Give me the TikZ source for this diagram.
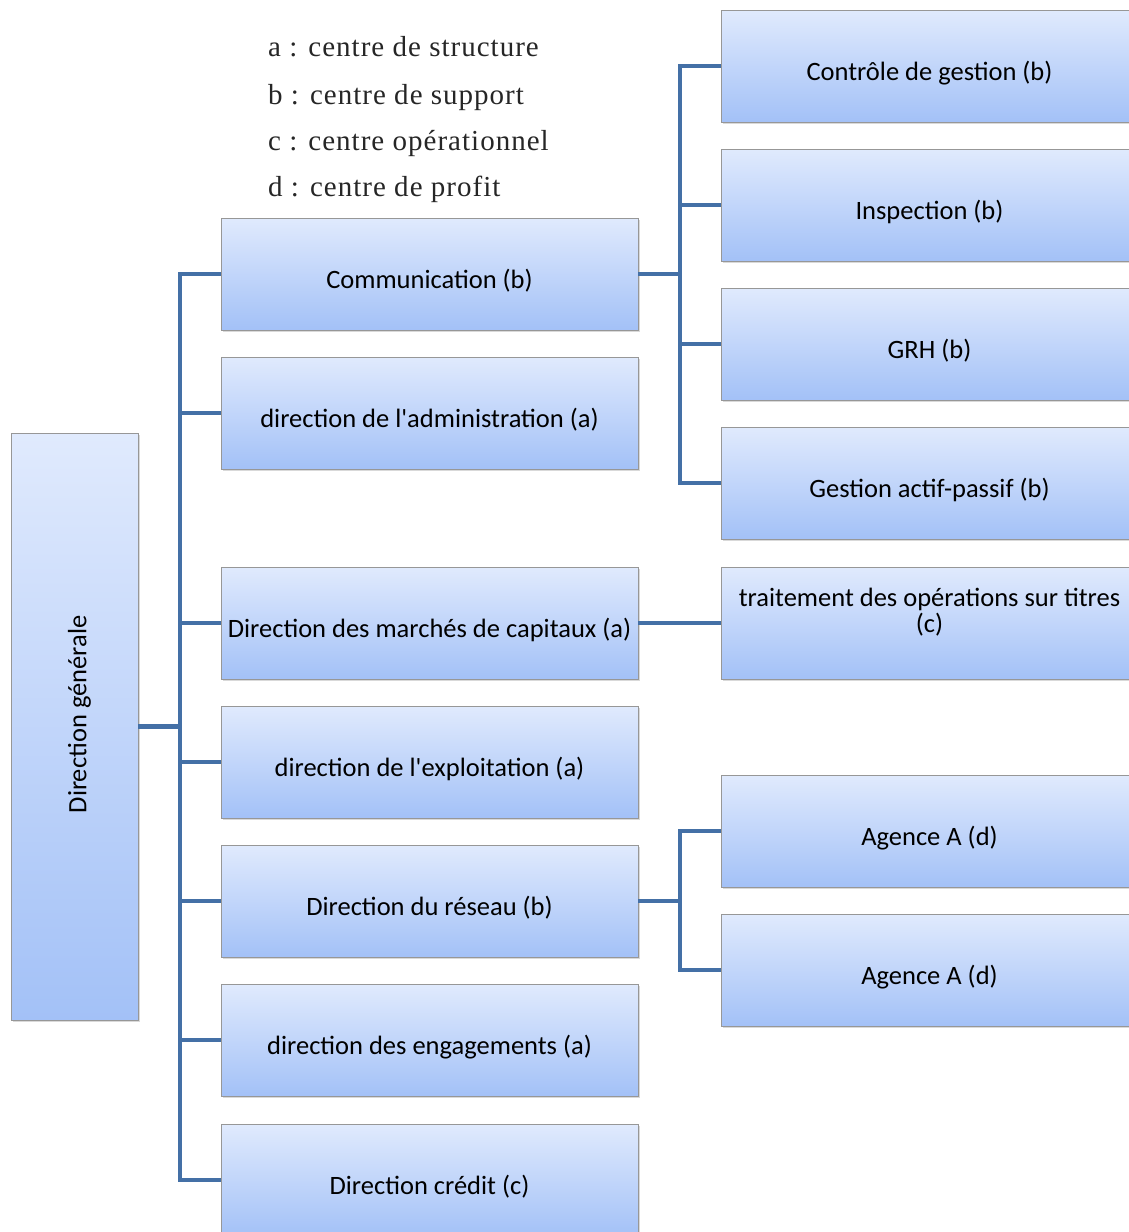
\documentclass[tikz,border=0pt]{standalone}
\usepackage{fontspec}
\setmainfont{Carlito}
\newfontfamily\legendfont[LetterSpace=3.5]{Liberation Serif}
\usetikzlibrary{shadows}

\definecolor{boxtop}{HTML}{E0EAFD}
\definecolor{boxbot}{HTML}{A3C1F7}
\definecolor{boxline}{HTML}{979797}
\definecolor{linkblue}{HTML}{4470A6}

\begin{document}
\begin{tikzpicture}[x=1pt,y=-1pt]
	\tikzstyle{Frame}	= [draw=boxline, line width=0.8pt, top color=boxtop, bottom color=boxbot,
						   minimum width=417pt, minimum height=112pt, inner sep=2pt,
						   font=\fontsize{26.5}{26}\selectfont,
						   drop shadow={shadow xshift=1.5pt, shadow yshift=-1.5pt, opacity=0.3}]
	\tikzstyle{Box}		= [Frame, text height=35pt, text depth=7pt]
	\tikzstyle{Tall}	= [minimum width=127pt, minimum height=587pt]
	\tikzstyle{Link}	= [line width=4.8pt, linkblue]
	\tikzstyle{Key}		= [anchor=base west, inner sep=0pt, text=black!85, font=\legendfont\fontsize{29}{32}\selectfont]

	\useasboundingbox (0,0) rectangle (1128,1232);

	% legend
	\node (ka) at (268,56)  [Key] {a : centre de structure};
	\node (kb) at (268,104) [Key] {b : centre de support};
	\node (kc) at (268,150) [Key] {c : centre opérationnel};
	\node (kd) at (268,196) [Key] {d : centre de profit};

	\node (dg) at (74.5,726.5) [Frame][Tall,
		label={[yshift=12pt, xshift=5pt, rotate=90, font=\fontsize{26.5}{26}\selectfont]center:Direction générale}] {};

	\node (comm)    at (429.5,274)  [Box] {Communication (b)};
	\node (admin)   at (429.5,413)  [Box] {direction de l\textquotesingle administration (a)};
	\node (marches) at (429.5,623)  [Box] {Direction des marchés de capitaux (a)};
	\node (exploit) at (429.5,762)  [Box] {direction de l\textquotesingle exploitation (a)};
	\node (reseau)  at (429.5,901)  [Box] {Direction du réseau (b)};
	\node (engag)   at (429.5,1040) [Box] {direction des engagements (a)};
	\node (credit)  at (429.5,1180) [Box] {Direction crédit (c)};

	\node (ctrl)    at (929.5,66)   [Box] {Contrôle de gestion (b)};
	\node (insp)    at (929.5,205)  [Box] {Inspection (b)};
	\node (grh)     at (929.5,344)  [Box] {GRH (b)};
	\node (gap)     at (929.5,483)  [Box] {Gestion actif-passif (b)};
	\node (titres)  at (929.5,623)  [Frame, align=center] {traitement des opérations sur titres\\(c)\\[-8pt]\strut};
	\node (agA)     at (929.5,831)  [Box] {Agence A (d)};
	\node (agB)     at (929.5,970)  [Box] {Agence A (d)};

	\coordinate (busL) at (180,0);
	\coordinate (busR) at (680,0);

	% left tree
	\draw [Link] (dg.east) -- (dg.east -| busL);
	\draw [Link] (comm.west) -- (busL |- comm.west) -- (busL |- credit.west) -- (credit.west);
	\foreach \n in {admin,marches,exploit,reseau,engag}
		\draw [Link] (busL |- \n.west) -- (\n.west);

	% right trees
	\draw [Link] (ctrl.west) -- (busR |- ctrl.west) -- (busR |- gap.west) -- (gap.west);
	\draw [Link] (comm.east) -- (busR |- comm.east);
	\draw [Link] (busR |- insp.west) -- (insp.west);
	\draw [Link] (busR |- grh.west) -- (grh.west);
	\draw [Link] (marches.east) -- (titres.west);
	\draw [Link] (agA.west) -- (busR |- agA.west) -- (busR |- agB.west) -- (agB.west);
	\draw [Link] (reseau.east) -- (busR |- reseau.east);
\end{tikzpicture}
\end{document}
